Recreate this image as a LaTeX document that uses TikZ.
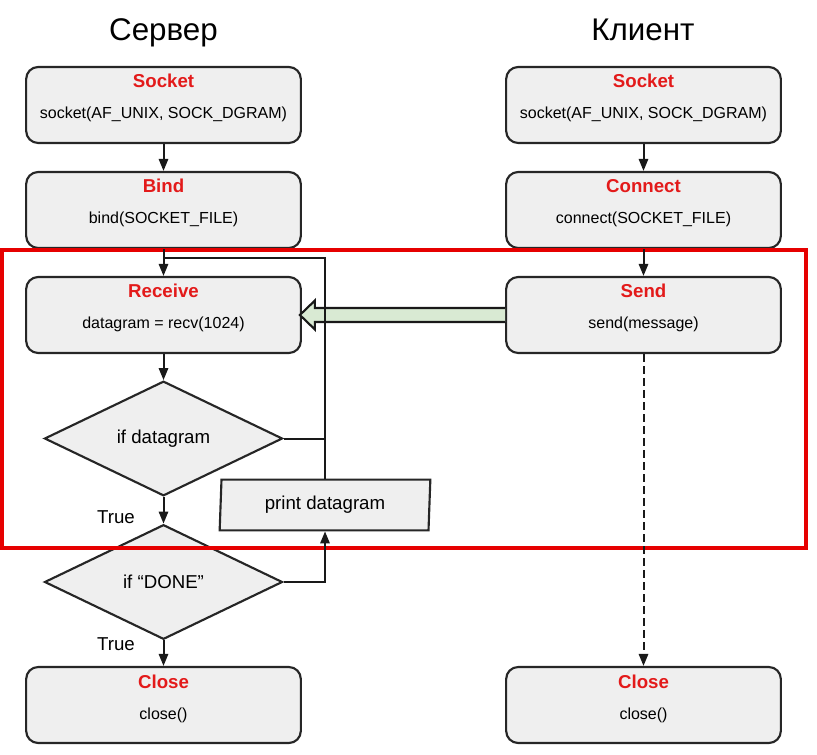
\documentclass[tikz,border=0pt]{standalone}
\usepackage{fontspec}
\setmainfont{Liberation Sans}
\usepackage{tikz}
\usetikzlibrary{arrows.meta,positioning,calc,shapes.geometric}

\definecolor{boxgray}{HTML}{EFEFEF}
\definecolor{hdred}{HTML}{E31A1A}
\definecolor{framered}{HTML}{E60000}
\definecolor{arrgreen}{HTML}{D9EAD3}

\begin{document}
\begin{tikzpicture}[x=0.75pt,y=0.75pt,
    blk/.style={draw=black!85,line width=1.6pt,fill=boxgray,rounded corners=9pt,
        minimum width=206pt,minimum height=57pt,inner sep=0},
    dec/.style={diamond,draw=black!85,line width=1.6pt,fill=boxgray,inner sep=0,
        minimum width=178.5pt,minimum height=86pt,font=\fontsize{14}{16}\selectfont},
    io/.style={trapezium,trapezium left angle=84,trapezium right angle=96,
        trapezium stretches body,draw=black!85,line width=1.6pt,fill=boxgray,
        minimum width=158pt,minimum height=38pt,inner sep=0,font=\fontsize{14}{16}\selectfont},
    ttl/.style={anchor=base,font=\fontsize{23.5}{28}\selectfont},
    hd/.style={anchor=base,text=hdred,font=\fontsize{14}{16}\selectfont\bfseries},
    code/.style={anchor=base,font=\fontsize{12}{14}\selectfont},
    lbl/.style={font=\fontsize{14}{16}\selectfont},
    line/.style={line width=1.5pt,draw=black!90},
    flow/.style={line,-{Triangle[length=9pt,width=7pt]}},
    bigarr/.style={line width=1.6pt,draw=black!90,fill=arrgreen,line join=miter},
    frame/.style={draw=framered,line width=2.4pt}]

    \useasboundingbox (0,0) rectangle (817,-755);

    % Column titles
    \node[ttl] (srv) at (163.5,-40.5) {Сервер};
    \node[ttl] (cli) at (643,-40.5) {Клиент};

    % Server blocks
    \node[blk] (ssock) at (163.5,-105) {};
    \node[hd] (ssock-h) at ($(ssock)+(0,17)$) {Socket};
    \node[code] (ssock-c) at ($(ssock)+(0,-14)$) {socket(AF\_UNIX, SOCK\_DGRAM)};

    \node[blk] (sbind) at (163.5,-210) {};
    \node[hd] (sbind-h) at ($(sbind)+(0,17)$) {Bind};
    \node[code] (sbind-c) at ($(sbind)+(0,-14)$) {bind(SOCKET\_FILE)};

    \node[blk] (srecv) at (163.5,-315) {};
    \node[hd] (srecv-h) at ($(srecv)+(0,17)$) {Receive};
    \node[code] (srecv-c) at ($(srecv)+(0,-14)$) {datagram = recv(1024)};

    \node[dec] (dgram) at (163.5,-438.5) {if datagram};
    \node[dec] (done) at (163.5,-582) {if “DONE”};
    \node[io] (prnt) at (325,-505) {print datagram};

    \node[blk] (sclose) at (163.5,-705) {};
    \node[hd] (sclose-h) at ($(sclose)+(0,17)$) {Close};
    \node[code] (sclose-c) at ($(sclose)+(0,-14)$) {close()};

    % Client blocks
    \node[blk] (csock) at (643.5,-105) {};
    \node[hd] (csock-h) at ($(csock)+(0,17)$) {Socket};
    \node[code] (csock-c) at ($(csock)+(0,-14)$) {socket(AF\_UNIX, SOCK\_DGRAM)};

    \node[blk] (cconn) at (643.5,-210) {};
    \node[hd] (cconn-h) at ($(cconn)+(0,17)$) {Connect};
    \node[code] (cconn-c) at ($(cconn)+(0,-14)$) {connect(SOCKET\_FILE)};

    \node[blk] (csend) at (643.5,-315) {};
    \node[hd] (csend-h) at ($(csend)+(0,17)$) {Send};
    \node[code] (csend-c) at ($(csend)+(0,-14)$) {send(message)};

    \node[blk] (cclose) at (643.5,-705) {};
    \node[hd] (cclose-h) at ($(cclose)+(0,17)$) {Close};
    \node[code] (cclose-c) at ($(cclose)+(0,-14)$) {close()};

    % Receive loop frame
    \draw[frame] (2,-250) rectangle (806,-548);

    % Message from client to server
    \draw[bigarr] ($(csend.west)+(0,7)$) -- ($(srecv.east)+(13,7)$)
        -- ($(srecv.east)+(13,14.5)$) -- ($(srecv.east)+(-2,0)$)
        -- ($(srecv.east)+(13,-14.5)$) -- ($(srecv.east)+(13,-7)$)
        -- ($(csend.west)+(0,-7)$);

    % Server flow
    \coordinate (jn) at ($(sbind.south)!0.34!(srecv.north)$);
    \draw[flow] (ssock) -- (sbind);
    \draw[flow] (sbind) -- (srecv);
    \draw[flow] (srecv) -- (dgram);
    \draw[flow] (dgram) -- (done);
    \draw[flow] (done) -- (sclose);
    \node[lbl] (true1) at (116,-517.5) {True};
    \node[lbl] (true2) at (116,-644) {True};

    \draw[line] (dgram.east) -- (dgram.east -| prnt.north);
    \draw[line] (prnt.north) |- (jn);
    \draw[flow] (done.east) -| (prnt.south);

    % Client flow
    \draw[flow] (csock) -- (cconn);
    \draw[flow] (cconn) -- (csend);
    \draw[flow,dash pattern=on 6pt off 3pt] (csend) -- (cclose);
\end{tikzpicture}
\end{document}
